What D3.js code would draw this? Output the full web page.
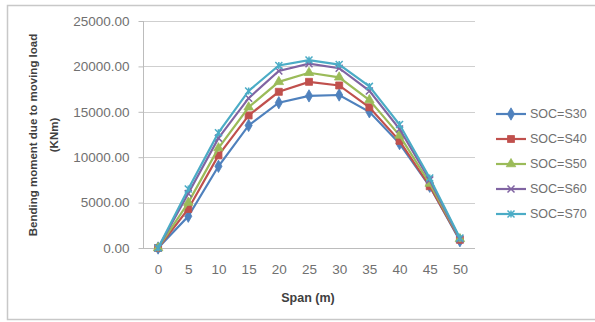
<!DOCTYPE html>
<html><head><meta charset="utf-8">
<script src="https://cdn.jsdelivr.net/npm/d3@7"></script>
<style>
html,body{margin:0;padding:0;background:#fff;}
svg{display:block;}
text{font-family:"Liberation Sans",Arial,sans-serif;}
</style></head>
<body>
<svg id="c" width="595" height="322"></svg>
<script>
const categories = [0,5,10,15,20,25,30,35,40,45,50];
const seriesNames = ["SOC=S30","SOC=S40","SOC=S50","SOC=S60","SOC=S70"];
const s30 = [0,3500,9000,13500,16000,16750,16850,15000,11500,6800,800];
const s40 = [0,4300,10200,14600,17200,18300,17900,15500,11800,6800,900];
const s50 = [0,5000,11000,15500,18300,19300,18800,16300,12400,7100,1000];
const s60 = [0,6000,12100,16500,19500,20300,19800,17300,13100,7500,1000];
const s70 = [0,6500,12700,17300,20100,20700,20200,17800,13600,7700,1100];
const yTicks = [0,5000,10000,15000,20000,25000];
const colors = ["#4F81BD","#C0504D","#9BBB59","#8064A2","#4BACC6"];
const markers = ["diamond","square","triangle","x","star"];
const allSeries = [s30,s40,s50,s60,s70];

const svg = d3.select("#c");
// outer border
svg.append("rect").attr("x",7.5).attr("y",5.5).attr("width",600).attr("height",314)
  .attr("fill","#fff").attr("stroke","#c8c8c8").attr("stroke-width",1.5);

const L=143,R=475,T=21,B=248;
const x = d3.scalePoint().domain(categories).range([L,R]).padding(0.5);
const y = d3.scaleLinear().domain([0,25000]).range([B,T]);

// gridlines
svg.append("g").selectAll("line").data(yTicks.filter(d=>d>0)).join("line")
  .attr("x1",L).attr("x2",R).attr("y1",d=>Math.round(y(d))+0.5).attr("y2",d=>Math.round(y(d))+0.5)
  .attr("stroke","#cfcfcf").attr("stroke-width",1);

// y axis
const ya = svg.append("g").attr("transform",`translate(${L+0.5},0)`)
  .call(d3.axisLeft(y).tickValues(yTicks).tickFormat(d3.format(".2f")).tickSize(5).tickPadding(9));
ya.select(".domain").attr("stroke","#bcbcbc").attr("d",`M0,${T}V${B}`);
ya.selectAll(".tick line").attr("stroke","#bcbcbc");
ya.selectAll("text").attr("font-size",13.5).attr("fill","#707070").attr("font-family","Liberation Sans,Arial,sans-serif");

// x axis
const xa = svg.append("g").attr("transform",`translate(0,${B+0.5})`)
  .call(d3.axisBottom(x).tickSize(0).tickPadding(16));
xa.select(".domain").attr("stroke","#bcbcbc").attr("d",`M${L},0H${R}`);
xa.selectAll("text").attr("font-size",13.5).attr("fill","#707070").attr("font-family","Liberation Sans,Arial,sans-serif");

// titles
svg.append("text").attr("x",308).attr("y",302).attr("text-anchor","middle")
  .attr("font-size",12.5).attr("font-weight","bold").attr("fill","#404040").text("Span (m)");
const yt = svg.append("text").attr("transform","translate(37,135) rotate(-90)")
  .attr("text-anchor","middle").attr("font-size",11.5).attr("font-weight","bold").attr("fill","#404040");
yt.append("tspan").attr("x",0).attr("dy",0).text("Bending moment due to moving load");
yt.append("tspan").attr("x",0).attr("dy",21).text("(KNm)");

function markerPath(type, s){
  if(type==="diamond") return d3.symbol(d3.symbolDiamond, s*s*0.9)();
  if(type==="square") return d3.symbol(d3.symbolSquare, s*s)();
  if(type==="triangle") return d3.symbol(d3.symbolTriangle, s*s*0.8)();
  const h=s/2;
  if(type==="x") return `M${-h},${-h}L${h},${h}M${-h},${h}L${h},${-h}`;
  return `M${-h},${-h}L${h},${h}M${-h},${h}L${h},${-h}M0,${-h}V${h}`;
}

const line = d3.line().x((d,i)=>x(categories[i])).y(d=>y(d));
allSeries.forEach((vals,k)=>{
  const g = svg.append("g");
  g.append("path").datum(vals).attr("d",line).attr("fill","none")
    .attr("stroke",colors[k]).attr("stroke-width",2.2);
  const m = g.selectAll("path.m").data(vals).join("path").attr("class","m")
    .attr("transform",(d,i)=>`translate(${x(categories[i])},${y(d)})`)
    .attr("d",markerPath(markers[k],7));
  if(k<3) m.attr("fill",colors[k]).attr("stroke",colors[k]).attr("stroke-width",0.8);
  else m.attr("fill","none").attr("stroke",colors[k]).attr("stroke-width",1.5);
});

// legend
const lg = svg.append("g");
seriesNames.forEach((n,k)=>{
  const yy = 114 + k*25;
  const g = lg.append("g");
  g.append("line").attr("x1",496).attr("x2",526).attr("y1",yy).attr("y2",yy)
    .attr("stroke",colors[k]).attr("stroke-width",2.2);
  const m = g.append("path").attr("transform",`translate(511,${yy})`).attr("d",markerPath(markers[k],7));
  if(k<3) m.attr("fill",colors[k]).attr("stroke",colors[k]).attr("stroke-width",0.8);
  else m.attr("fill","none").attr("stroke",colors[k]).attr("stroke-width",1.5);
  g.append("text").attr("x",530).attr("y",yy+4).attr("font-size",12.5).attr("fill","#707070").text(n);
});
</script>
</body></html>
